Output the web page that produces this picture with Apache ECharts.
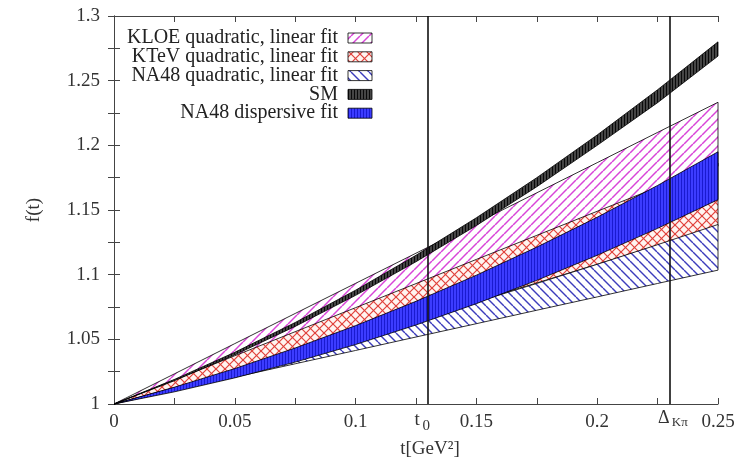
<!DOCTYPE html>
<html>
<head>
<meta charset="utf-8">
<script src="https://cdn.jsdelivr.net/npm/echarts@6/dist/echarts.min.js"></script>
<style>
    html, body { margin: 0; padding: 0; background: #fff; }
    #main { width: 748px; height: 460px; }
</style>
</head>
<body>
<div id="main"></div>
<script>
var tVals  = [0, 0.025, 0.05, 0.075, 0.1, 0.125, 0.15, 0.175, 0.2, 0.225, 0.25];

// band edges f(t)
var kloeHi = [1, 1.0233, 1.0467, 1.0700, 1.0933, 1.1166, 1.1400, 1.1633, 1.1866, 1.2100, 1.2333];
var kloeLo = [1, 1.0167, 1.0338, 1.0512, 1.0690, 1.0872, 1.1058, 1.1247, 1.1440, 1.1637, 1.1838];
var ktevHi = [1, 1.0186, 1.0373, 1.0559, 1.0745, 1.0931, 1.1118, 1.1304, 1.1490, 1.1676, 1.1863];
var ktevLo = [1, 1.0126, 1.0255, 1.0386, 1.0520, 1.0656, 1.0795, 1.0936, 1.1080, 1.1226, 1.1375];
var na48Hi = [1, 1.0122, 1.0248, 1.0377, 1.0510, 1.0647, 1.0788, 1.0932, 1.1080, 1.1232, 1.1388];
var na48Lo = [1, 1.0104, 1.0207, 1.0311, 1.0414, 1.0518, 1.0621, 1.0725, 1.0828, 1.0932, 1.1035];
var smHi   = [1, 1.0190, 1.0400, 1.0630, 1.0880, 1.1150, 1.1440, 1.1750, 1.2080, 1.2430, 1.2800];
var smLo   = [1, 1.0180, 1.0380, 1.0600, 1.0840, 1.1100, 1.1380, 1.1680, 1.2000, 1.2330, 1.2690];
var dispHi = [1, 1.0130, 1.0274, 1.0433, 1.0606, 1.0794, 1.0996, 1.1213, 1.1444, 1.1690, 1.1950];
var dispLo = [1, 1.0094, 1.0202, 1.0324, 1.0460, 1.0611, 1.0776, 1.0956, 1.1150, 1.1358, 1.1580];

// vertical markers
var t0 = 0.128;
var deltaKpi = 0.2284;

var legendNames = ['KLOE quadratic, linear fit', 'KTeV quadratic, linear fit',
    'NA48 quadratic, linear fit', 'SM', 'NA48 dispersive fit'];

var FONT = '"Liberation Serif", "DejaVu Serif", serif';

// hatch patterns
function hatch(bg, fg, kind, w, h, lw) {
    var c = document.createElement('canvas');
    c.width = w; c.height = h;
    var g = c.getContext('2d');
    g.fillStyle = bg;
    g.fillRect(0, 0, w, h);
    g.strokeStyle = fg;
    g.fillStyle = fg;
    g.lineWidth = lw || 1.2;
    var dx;
    if (kind == 'up' || kind == 'cross') {
        for (dx = -w; dx <= w; dx += w) {
            g.beginPath(); g.moveTo(dx, h); g.lineTo(dx + w, 0); g.stroke();
        }
    }
    if (kind == 'down' || kind == 'cross') {
        for (dx = -w; dx <= w; dx += w) {
            g.beginPath(); g.moveTo(dx, 0); g.lineTo(dx + w, h); g.stroke();
        }
    }
    if (kind == 'vert') {
        g.fillRect(0, 0, 1, h);
    }
    return {image: c, repeat: 'repeat'};
}

var patKloe = hatch('#ffffff', '#d845d8', 'up', 9, 9, 1.5);
var patKtev = hatch('#fff4f0', '#e0403a', 'cross', 9, 9, 1.2);
var patNa48 = hatch('#ffffff', '#3c3cbc', 'down', 9, 9, 1.4);
var patSm   = hatch('#454545', '#0a0a0a', 'vert', 3, 4);
var patDisp = hatch('#3c3cff', '#1a1ad0', 'vert', 3, 4);

var pats = [patKloe, patKtev, patNa48, patSm, patDisp];

// one filled band between lo and hi, drawn through the axes
function band(name, lo, hi, pat) {
    var pts = [];
    for (var i = 0; i < tVals.length; i++) {
        pts.push([tVals[i], lo[i], hi[i]]);
    }
    return {
        name: name, type: 'custom', silent: true,
        data: pts,
        encode: {x: 0, y: [1, 2]},
        renderItem: function (params, api) {
            if (params.dataIndex != 0) return;
            var poly = [], k;
            for (k = 0; k < tVals.length; k++) poly.push(api.coord([tVals[k], hi[k]]));
            for (k = tVals.length - 1; k >= 0; k--) poly.push(api.coord([tVals[k], lo[k]]));
            return {
                type: 'polygon',
                shape: {points: poly},
                style: {fill: pat, stroke: '#000', lineWidth: 0.8}
            };
        }
    };
}

var series = [
    band('kloe', kloeLo, kloeHi, patKloe),
    band('ktev', ktevLo, ktevHi, patKtev),
    band('na48', na48Lo, na48Hi, patNa48),
    band('sm', smLo, smHi, patSm),
    band('disp', dispLo, dispHi, patDisp),
    {
        // t0 and Delta_Kpi lines
        type: 'line', data: [], silent: true,
        markLine: {
            silent: true,
            symbol: 'none',
            label: {show: false},
            lineStyle: {color: '#111', width: 1.6, type: 'solid'},
            data: [{xAxis: t0}, {xAxis: deltaKpi}]
        }
    }
];

var tickStyle = {inside: true, length: 6, lineStyle: {color: '#444'}};
var minorStyle = {show: true, splitNumber: 2, length: 6, lineStyle: {color: '#444'}};
var lineStyle = {show: true, lineStyle: {color: '#444', width: 1}};

var chart = echarts.init(document.getElementById('main'));

var option = {
    animation: false,
    backgroundColor: '#fff',
    grid: {left: 114, right: 30, top: 16, bottom: 56},
    xAxis: [
        {
            type: 'value', min: 0, max: 0.25, interval: 0.05,
            axisLine: lineStyle, axisTick: tickStyle, minorTick: minorStyle,
            splitLine: {show: false},
            axisLabel: {color: '#333', fontFamily: FONT, fontSize: 19, margin: 9}
        },
        {
            type: 'value', position: 'top', min: 0, max: 0.25, interval: 0.05,
            axisLine: lineStyle, axisTick: tickStyle, minorTick: minorStyle,
            splitLine: {show: false}, axisLabel: {show: false}
        }
    ],
    yAxis: [
        {
            type: 'value', min: 1, max: 1.3, interval: 0.05,
            axisLine: lineStyle, axisTick: tickStyle, minorTick: minorStyle,
            splitLine: {show: false},
            axisLabel: {color: '#333', fontFamily: FONT, fontSize: 19, margin: 14},
            name: 'f(t)', nameLocation: 'middle', nameRotate: 90, nameGap: 70,
            nameTextStyle: {color: '#333', fontFamily: FONT, fontSize: 19}
        },
        {
            type: 'value', position: 'right', min: 1, max: 1.3, interval: 0.05,
            axisLine: lineStyle, axisTick: tickStyle, minorTick: minorStyle,
            splitLine: {show: false}, axisLabel: {show: false}
        }
    ],
    series: series
};
chart.setOption(option);

// legend + marker labels
var graphics = [];
for (var i = 0; i < legendNames.length; i++) {
    var yc = 38 + i * 18.8;
    graphics.push({
        type: 'text', x: 338, y: yc,
        style: {text: legendNames[i], fill: '#222', font: '20px ' + FONT,
            textAlign: 'right', textVerticalAlign: 'middle'}
    });
    graphics.push({
        type: 'rect', shape: {x: 348, y: yc - 5, width: 24, height: 10},
        style: {fill: pats[i], stroke: '#000', lineWidth: 0.8}
    });
}

var xT0 = chart.convertToPixel({xAxisIndex: 0}, t0);
var xDelta = chart.convertToPixel({xAxisIndex: 0}, deltaKpi);
var yBase = chart.convertToPixel({yAxisIndex: 0}, 1);

graphics.push({
    type: 'text', x: xT0 - 6, y: yBase + 16,
    style: {text: 't', fill: '#333', font: '19px ' + FONT, textAlign: 'center', textVerticalAlign: 'middle'}
});
graphics.push({
    type: 'text', x: xT0 + 3, y: yBase + 22,
    style: {text: '0', fill: '#333', font: '15px ' + FONT, textAlign: 'center', textVerticalAlign: 'middle'}
});
graphics.push({
    type: 'text', x: xDelta - 2, y: yBase + 14,
    style: {text: 'Δ', fill: '#333', font: '18px ' + FONT, textAlign: 'center', textVerticalAlign: 'middle'}
});
graphics.push({
    type: 'text', x: xDelta + 6, y: yBase + 19,
    style: {text: 'Kπ', fill: '#333', font: '13px ' + FONT, textAlign: 'left', textVerticalAlign: 'middle'}
});
graphics.push({
    type: 'text', x: 430, y: yBase + 45,
    style: {text: 't[GeV²]', fill: '#333', font: '19px ' + FONT, textAlign: 'center', textVerticalAlign: 'middle'}
});

chart.setOption({graphic: graphics});
</script>
</body>
</html>
